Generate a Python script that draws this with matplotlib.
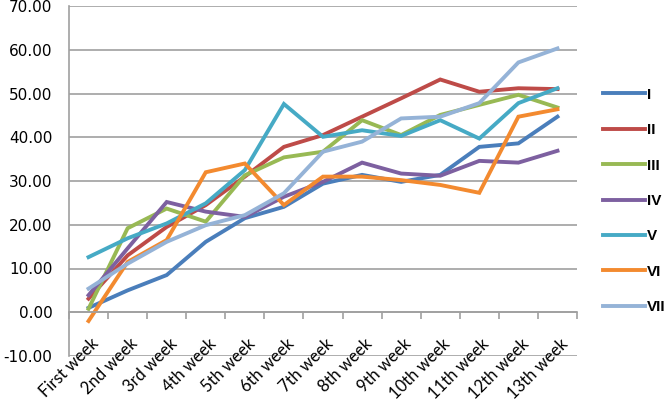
import matplotlib
matplotlib.use("Agg")
import matplotlib.pyplot as plt
import numpy as np

weeks = ["First week", "2nd week", "3rd week", "4th week", "5th week", "6th week",
         "7th week", "8th week", "9th week", "10th week", "11th week", "12th week", "13th week"]

s1 = [1.0, 5.0, 8.5, 16.1, 21.5, 24.1, 29.4, 31.4, 29.8, 31.4, 37.8, 38.6, 44.7]
s2 = [3.1, 13.0, 19.5, 24.5, 31.0, 37.8, 40.5, 44.7, 48.9, 53.2, 50.4, 51.2, 51.0]
s3 = [0.8, 19.2, 23.7, 20.7, 31.3, 35.4, 36.7, 43.9, 40.5, 45.1, 47.4, 49.7, 46.8]
s4 = [3.9, 14.6, 25.2, 23.0, 21.8, 26.4, 29.8, 34.2, 31.7, 31.2, 34.6, 34.2, 36.9]
s5 = [12.6, 16.9, 20.3, 24.9, 32.5, 47.6, 40.1, 41.6, 40.3, 43.9, 39.7, 47.8, 51.2]
s6 = [-2.0, 11.5, 16.5, 32.0, 34.0, 24.5, 31.0, 31.0, 30.2, 29.1, 27.3, 44.7, 46.4]
s7 = [5.4, 11.1, 16.1, 19.9, 22.2, 27.2, 36.7, 39.0, 44.3, 44.7, 47.8, 57.1, 60.3]

names = ["I", "II", "III", "IV", "V", "VI", "VII"]
series = [s1, s2, s3, s4, s5, s6, s7]
colors = ["#4A7EBB", "#BE4B48", "#98B954", "#7D60A0", "#46AAC5", "#F38A2F", "#95B3D7"]

fig = plt.figure(figsize=(6.69, 4.03), dpi=100)
ax = fig.add_axes([69 / 669, 1 - 356 / 403, (577 - 69) / 669, 350 / 403])

x = np.arange(len(weeks))
for vals, name, c in zip(series, names, colors):
    ax.plot(x, vals, color=c, lw=2.8, label=name, solid_joinstyle="miter")

ax.set_ylim(-10, 70)
ax.set_xlim(-0.5, len(weeks) - 0.5)
ax.set_yticks(np.arange(-10, 71, 10))
ax.set_yticklabels(["%.2f" % v for v in np.arange(-10, 71, 10)], fontsize=11)
ax.yaxis.grid(True, color="#A0A0A0", lw=1.2)
ax.set_axisbelow(True)
ax.tick_params(axis="y", length=0, pad=12)

ax.spines["top"].set_visible(False)
ax.spines["right"].set_visible(False)
ax.spines["left"].set_color("#A0A0A0")
ax.spines["left"].set_linewidth(1.2)
ax.spines["bottom"].set_position(("data", 0))
ax.spines["bottom"].set_color("#A0A0A0")
ax.spines["bottom"].set_linewidth(1.2)
ax.set_xticks(np.arange(-0.5, len(weeks), 1))
ax.set_xticklabels([])
ax.tick_params(axis="x", length=5, width=1.2, color="#A0A0A0", direction="out")

for i, w in enumerate(weeks):
    ax.text(i + 0.05, -5.3, w, rotation=45, ha="right", va="top",
            rotation_mode="anchor", fontsize=12, family="Lato", clip_on=False)

leg = fig.legend(loc="center left", bbox_to_anchor=(603 / 669, 1 - 201 / 403),
                 frameon=False, prop={"family": "Liberation Sans", "weight": "bold", "size": 11},
                 handlelength=2.75, handletextpad=0.15,
                 labelspacing=1.4, borderpad=0, borderaxespad=0)

fig.savefig("out.png", dpi=100)
